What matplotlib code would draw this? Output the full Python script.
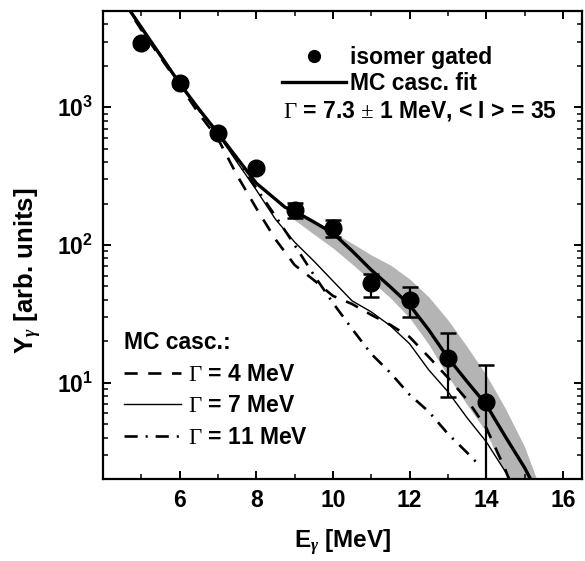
import math
import matplotlib
matplotlib.use('Agg')
import matplotlib.pyplot as plt
from matplotlib.lines import Line2D
from matplotlib.ticker import LogLocator, FuncFormatter, MultipleLocator, NullFormatter

plt.rcParams['font.family'] = ['Liberation Sans', 'DejaVu Sans']
plt.rcParams['font.weight'] = 'bold'
plt.rcParams['mathtext.fontset'] = 'custom'
plt.rcParams['mathtext.rm'] = 'Liberation Serif:weight=normal'
plt.rcParams['mathtext.it'] = 'Liberation Serif:italic'
plt.rcParams['mathtext.bf'] = 'Liberation Sans:bold'
plt.rcParams['mathtext.sf'] = 'Liberation Sans'

# ---- data ----
E_data = [5, 6, 7, 8, 9, 10, 11, 12, 13, 14]
Y_data = [2913, 1490, 649, 361, 180, 133, 53, 40, 15.2, 7.3]
err_lo = [140, 60, 25, 15, 23, 19, 11, 10, 7.3, 7.29]
err_hi = [140, 60, 25, 15, 21, 19, 8.7, 9.6, 7.8, 6.2]

E_fit = [4.5, 5.0, 5.5, 6.0, 6.5, 7.0, 7.5, 8.0, 8.25, 8.5, 8.75, 9.0, 9.5, 10.0,
         10.5, 11.0, 11.5, 12.0, 12.5, 13.0, 13.5, 14.0, 14.5, 15.0, 15.5]
Y_fit = [6100, 3800, 2380, 1490, 972, 649, 427, 281, 246, 215, 188, 176, 147, 122,
         90.6, 65.9, 49.6, 36.7, 24.2, 15.2, 10.2, 6.93, 4.06, 2.42, 1.31]

E_g7 = [4.5, 5.0, 5.5, 6.0, 6.5, 7.0, 7.5, 8.0, 8.5, 9.0, 9.5, 10.0, 10.5, 11.0,
        11.5, 12.0, 12.5, 13.0, 13.5, 14.0, 14.5, 15.0]
Y_g7 = [6050, 3750, 2350, 1470, 950, 637, 399, 251, 154, 105, 76.6, 54.8, 39.3, 32.7,
        25.9, 19.2, 12.4, 8.61, 5.57, 3.73, 2.26, 1.31]

E_g4 = [4.5, 5.0, 5.5, 6.0, 6.5, 7.0, 7.5, 8.0, 8.5, 9.0, 9.5, 10.0, 10.5, 11.0,
        11.5, 12.0, 12.5, 13.0, 13.5, 14.0, 14.5, 15.0]
Y_g4 = [6000, 3650, 2300, 1450, 900, 590, 320, 185, 110, 71.6, 55.7, 42.7, 37.3, 31.1,
        26.3, 21.5, 15.4, 10.9, 7.53, 4.72, 2.34, 1.02]

E_g11 = [4.5, 5.0, 5.5, 6.0, 6.5, 7.0, 7.5, 8.0, 8.5, 9.0, 9.5, 10.0, 10.5, 11.0,
         11.5, 12.0, 12.5, 13.0, 13.5, 13.8]
Y_g11 = [6100, 3800, 2380, 1490, 965, 640, 420, 259, 162, 100, 60.7, 38, 24.6, 16.2,
         11.8, 8.19, 6.17, 4.26, 3.11, 2.55]

E_band = [8.75, 9.0, 9.5, 10.0, 10.5, 11.0, 11.5, 12.0, 12.5, 13.0, 13.5, 14.0, 14.5, 15.0, 15.3]
band_hi = [192, 182, 152, 124, 103, 84.7, 71.6, 56.7, 42.0, 28.6, 18.3, 11.4, 6.5, 3.44, 2.05]
band_lo = [188, 152, 120, 95.1, 72.8, 54.8, 41.3, 29.6, 19.0, 11.2, 6.93, 4.4, 2.15, 0.94, 0.5]

x_ticks = [6, 8, 10, 12, 14, 16]

FS = 16.5

fig = plt.figure(figsize=(5.85, 5.61), dpi=100)
ax = fig.add_axes([103/585, 1-479/561, 479/585, 468/561])

ax.fill_between(E_band, band_lo, band_hi, color='#b4b4b4', lw=0, zorder=1)
ax.plot(E_g7, Y_g7, color='k', lw=1.0, zorder=2)
ax.plot(E_g4, Y_g4, color='k', lw=1.9, dashes=(5, 4), zorder=2)
ax.plot(E_g11, Y_g11, color='k', lw=1.9, dashes=(5, 3, 0.8, 3), zorder=2)
ax.plot(E_fit, Y_fit, color='k', lw=2.4, zorder=3)
ax.errorbar(E_data, Y_data, yerr=[err_lo, err_hi], fmt='o', color='k', ms=12,
            elinewidth=1.6, capsize=5.5, capthick=1.8, zorder=5)

ax.set_yscale('log')
ax.set_xlim(4, 16.5)
ax.set_ylim(2, 5000)
ax.set_xticks(x_ticks)
ax.xaxis.set_minor_locator(MultipleLocator(1))
ax.yaxis.set_major_locator(LogLocator(base=10, numticks=10))
ax.yaxis.set_minor_locator(LogLocator(base=10, subs=range(2, 10), numticks=20))
ax.yaxis.set_minor_formatter(NullFormatter())
ax.yaxis.set_major_formatter(FuncFormatter(lambda v, p: r'$\mathbf{10^{%d}}$' % round(math.log10(v))))

ax.tick_params(which='both', direction='in', top=True, right=True)
ax.tick_params(which='major', length=6, width=1.4, labelsize=FS, pad=7)
ax.tick_params(which='minor', length=3.5, width=1.1)
for s in ax.spines.values():
    s.set_linewidth(1.6)

ax.set_xlabel(r'E$_{\gamma}$ [MeV]', fontsize=17.5, fontweight='bold')
ax.set_ylabel(r'Y$_{\gamma}$ [arb. units]', fontsize=18.5, fontweight='bold')
ax.xaxis.set_label_coords(0.5, -0.103)
ax.yaxis.set_label_coords(-0.123, 0.445)

h1 = [Line2D([], [], marker='o', ls='none', color='k', ms=8.5),
      Line2D([], [], color='k', lw=2.4)]
leg1 = ax.legend(h1, ['isomer gated', 'MC casc. fit'], loc='upper left',
                 bbox_to_anchor=((282-103)/479, (479-46)/468), frameon=False,
                 borderpad=0, borderaxespad=0, handlelength=2.8, handletextpad=0.15,
                 labelspacing=0.15, prop={'size': FS, 'weight': 'bold'})
ax.add_artist(leg1)
ax.text((283-103)/479, (479-111)/468, r'$\Gamma$ = 7.3 $\pm$ 1 MeV, < I > = 35',
        transform=ax.transAxes, ha='left', va='center', fontsize=FS, fontweight='bold')

h2 = [Line2D([], [], color='k', lw=1.9, dashes=(5, 4)),
      Line2D([], [], color='k', lw=1.0),
      Line2D([], [], color='k', lw=1.9, dashes=(5, 3, 0.8, 3))]
leg2 = ax.legend(h2, [r'$\Gamma$ = 4 MeV', r'$\Gamma$ = 7 MeV', r'$\Gamma$ = 11 MeV'],
                 loc='upper left', bbox_to_anchor=((124-103)/479, (479-331)/468),
                 frameon=False, borderpad=0, borderaxespad=0, handlelength=2.5,
                 handletextpad=0.3, labelspacing=0.375, title='MC casc.:',
                 title_fontproperties={'size': FS, 'weight': 'bold'}, alignment='left',
                 prop={'size': FS, 'weight': 'bold'})

fig.savefig('out.png', dpi=100)
